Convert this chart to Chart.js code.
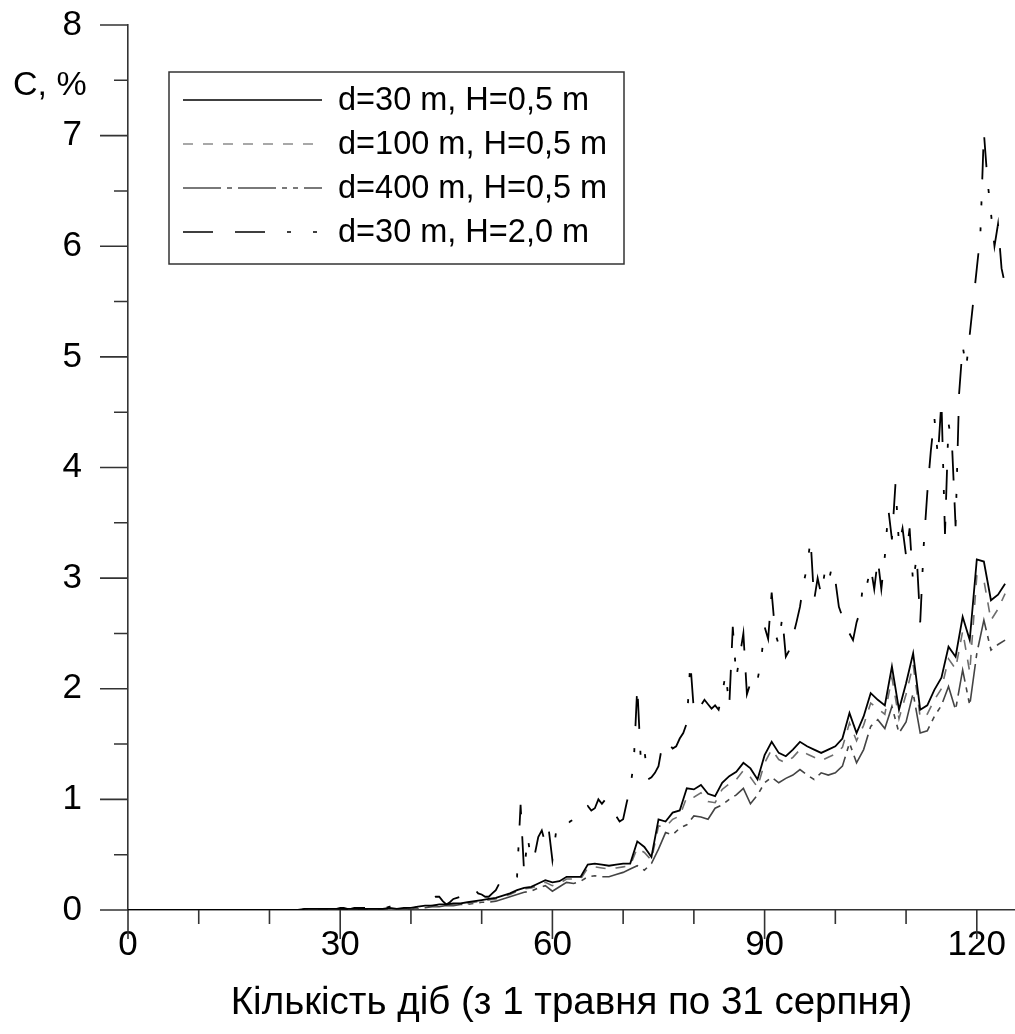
<!DOCTYPE html>
<html>
<head>
<meta charset="utf-8">
<title>Концентрація</title>
<script src="https://cdn.jsdelivr.net/npm/chart.js@4.4.1/dist/chart.umd.min.js"></script>
<style>
    html, body { margin: 0; padding: 0; background: #fff; }
    #wrap { width: 1015px; height: 1034px; position: relative; }
</style>
</head>
<body>
<div id="wrap"><canvas id="concChart"></canvas></div>
<script>
"use strict";

// Осі
var xTickLabels = [0, 30, 60, 90, 120];
var yTickLabels = [0, 1, 2, 3, 4, 5, 6, 7, 8];
var xTitle      = "Кількість діб (з 1 травня по 31 серпня)";
var yTitle      = "C, %";

var seriesLabels = [
    "d=30 m, H=0,5 m",
    "d=100 m, H=0,5 m",
    "d=400 m, H=0,5 m",
    "d=30 m, H=2,0 m"
];

// Концентрація по добах, доба 0 .. 124
var conc30 = [
    0, 0, 0, 0, 0, 0, 0, 0, 0, 0,
    0, 0, 0, 0, 0, 0, 0, 0, 0, 0,
    0, 0, 0, 0, 0, 0.01, 0.01, 0.01, 0.01, 0.01,
    0.01, 0.01, 0.01, 0.01, 0.01, 0.01, 0.01, 0.02, 0.01, 0.02,
    0.02, 0.03, 0.04, 0.04, 0.05, 0.05, 0.06, 0.06, 0.07, 0.08,
    0.09, 0.10, 0.11, 0.13, 0.15, 0.18, 0.20, 0.21, 0.24, 0.27,
    0.25, 0.26, 0.30, 0.30, 0.30, 0.41, 0.42, 0.41, 0.40, 0.41,
    0.42, 0.42, 0.62, 0.57, 0.48, 0.82, 0.80, 0.88, 0.90, 1.10,
    1.09, 1.13, 1.05, 1.03, 1.15, 1.21, 1.25, 1.33, 1.28, 1.18,
    1.40, 1.52, 1.42, 1.39, 1.45, 1.52, 1.48, 1.45, 1.42, 1.45,
    1.48, 1.55, 1.78, 1.60, 1.75, 1.96, 1.90, 1.85, 2.20, 1.81,
    2.05, 2.32, 1.81, 1.85, 1.99, 2.10, 2.38, 2.29, 2.65, 2.44,
    3.17, 3.15, 2.80, 2.85, 2.95
];
var conc100 = [
    0, 0, 0, 0, 0, 0, 0, 0, 0, 0,
    0, 0, 0, 0, 0, 0, 0, 0, 0, 0,
    0, 0, 0, 0, 0, 0.01, 0.01, 0.01, 0.01, 0.01,
    0.01, 0.01, 0.01, 0.01, 0.01, 0.01, 0.01, 0.01, 0.01, 0.01,
    0.02, 0.02, 0.03, 0.04, 0.04, 0.05, 0.05, 0.06, 0.06, 0.07,
    0.08, 0.09, 0.10, 0.12, 0.14, 0.17, 0.19, 0.20, 0.22, 0.25,
    0.22, 0.24, 0.28, 0.28, 0.28, 0.38, 0.39, 0.38, 0.37, 0.38,
    0.39, 0.40, 0.56, 0.52, 0.45, 0.76, 0.75, 0.82, 0.85, 1.02,
    1.02, 1.06, 0.98, 0.97, 1.09, 1.14, 1.18, 1.26, 1.20, 1.11,
    1.33, 1.45, 1.36, 1.33, 1.38, 1.45, 1.41, 1.38, 1.35, 1.38,
    1.41, 1.47, 1.69, 1.53, 1.67, 1.87, 1.82, 1.77, 2.10, 1.73,
    1.95, 2.22, 1.74, 1.77, 1.90, 2.00, 2.27, 2.18, 2.52, 2.15,
    3.02, 2.98, 2.62, 2.72, 2.86
];
var conc400 = [
    0, 0, 0, 0, 0, 0, 0, 0, 0, 0,
    0, 0, 0, 0, 0, 0, 0, 0, 0, 0,
    0, 0, 0, 0, 0, 0, 0.01, 0, 0.01, 0.01,
    0.01, 0.01, 0.01, 0.01, 0.01, 0.01, 0.01, 0.01, 0.01, 0.01,
    0.01, 0.01, 0.02, 0.03, 0.03, 0.04, 0.04, 0.05, 0.05, 0.06,
    0.07, 0.07, 0.08, 0.10, 0.12, 0.14, 0.16, 0.17, 0.20, 0.22,
    0.17, 0.21, 0.25, 0.24, 0.26, 0.30, 0.31, 0.30, 0.30, 0.32,
    0.34, 0.37, 0.40, 0.36, 0.42, 0.55, 0.70, 0.68, 0.74, 0.77,
    0.85, 0.84, 0.82, 0.92, 0.95, 1.00, 1.04, 1.10, 0.96, 1.04,
    1.15, 1.20, 1.15, 1.19, 1.22, 1.27, 1.22, 1.18, 1.24, 1.22,
    1.24, 1.30, 1.51, 1.33, 1.45, 1.66, 1.72, 1.64, 1.84, 1.60,
    1.70, 1.96, 1.60, 1.62, 1.75, 1.85, 2.02, 1.81, 2.17, 1.85,
    2.32, 2.62, 2.35, 2.40, 2.44
];

// Для H=2,0 m крок пів доби: 0; 0,5; 1 .. 124
var conc30h2 = [
    0, 0, 0, 0, 0, 0, 0, 0, 0, 0,
    0, 0, 0, 0, 0, 0, 0, 0, 0, 0,
    0, 0, 0, 0, 0, 0, 0, 0, 0, 0,
    0, 0, 0, 0, 0, 0, 0, 0, 0, 0,
    0, 0, 0, 0, 0, 0, 0, 0, 0, 0,
    0.01, 0.01, 0.01, 0.01, 0.01, 0.01, 0.02, 0.02, 0.01, 0.01,
    0.02, 0.02, 0.01, 0.01, 0.02, 0.02, 0.02, 0.02, 0.02, 0.02,
    0.01, 0.01, 0.02, 0.02, 0.03, 0.03, 0.02, 0.02, 0.02, 0.02,
    0.02, 0.02, 0.03, 0.03, 0.05, 0.08, 0.10, 0.12, 0.12, 0.08,
    0.05, 0.07, 0.10, 0.11, 0.12, 0.15, 0.18, 0.20, 0.19, 0.15,
    0.14, 0.12, 0.12, 0.15, 0.18, 0.24, 0.26, 0.27, 0.25, 0.29,
    0.30, 0.95, 0.34, 0.66, 0.45, 0.50, 0.66, 0.72, 0.60, 0.72,
    0.45, 0.70, 0.75, 0.79, 0.76, 0.80, 0.82, 0.82, 0.86, 0.92,
    0.94, 0.90, 0.92, 1.00, 0.96, 1.00, 0.94, 0.90, 0.85, 0.80,
    0.82, 0.97, 1.10, 1.33, 2.02, 1.35, 1.45, 1.18, 1.20, 1.24,
    1.30, 1.48, 1.45, 1.50, 1.46, 1.48, 1.55, 1.60, 1.69, 2.24,
    1.80, 1.78, 1.85, 1.90, 1.86, 1.82, 1.85, 1.81, 1.95, 2.14,
    1.84, 2.56, 2.10, 2.30, 2.50, 1.95, 2.05, 2.00, 2.08, 2.25,
    2.56, 2.45, 2.87, 2.50, 2.40, 2.65, 2.29, 2.35, 2.47, 2.60,
    2.74, 2.95, 3.10, 3.35, 2.80, 3.00, 2.85, 3.05, 2.95, 3.10,
    2.98, 2.74, 2.65, 2.60, 2.50, 2.44, 2.60, 2.70, 3.00, 2.95,
    3.10, 2.90, 3.17, 2.90, 3.20, 3.62, 3.35, 3.85, 3.30, 3.45,
    3.20, 3.45, 2.95, 3.20, 2.60, 3.30, 3.77, 4.15, 4.45, 4.10,
    4.60, 3.40, 4.40, 4.20, 3.47, 4.67, 5.10, 4.90, 5.20, 5.50,
    5.80, 6.10, 7.03, 6.60, 6.30, 6.00, 6.20, 5.80, 5.65
];

var fontFamily = "\"Liberation Sans\", Arial, sans-serif";
var axisColor  = "#333333";

function toPoints(values, step)
{
    var pts = [];
    for (var i = 0; i < values.length; i++)
    {
        pts.push({x: i * step, y: values[i]});
    }
    return pts;
}

// Риски на осях (великі та малі) і підпис осі Y
var axisTicksPlugin = {
    id: "axisTicks",
    afterDraw: function (chart)
    {
        var ctx  = chart.ctx;
        var area = chart.chartArea;
        var xs   = chart.scales.x;
        var ys   = chart.scales.y;

        ctx.save();
        ctx.strokeStyle = axisColor;
        ctx.lineWidth   = 1.6;
        ctx.beginPath();
        for (var v = 0; v <= 8; v += 0.5)
        {
            var py  = ys.getPixelForValue(v);
            var len = (v % 1 === 0) ? 28 : 14;
            ctx.moveTo(area.left - len, py);
            ctx.lineTo(area.left, py);
        }
        for (var d = 0; d <= 120; d += 10)
        {
            var px   = xs.getPixelForValue(d);
            var tlen = (d % 30 === 0) ? 29 : 14;
            ctx.moveTo(px, area.bottom);
            ctx.lineTo(px, area.bottom + tlen);
        }
        ctx.stroke();

        ctx.fillStyle    = "#000";
        ctx.font         = "34px " + fontFamily;
        ctx.textAlign    = "left";
        ctx.textBaseline = "middle";
        ctx.fillText(yTitle, 13, 86);
        ctx.restore();
    }
};

// Легенда в рамці
var boxLegendPlugin = {
    id: "boxLegend",
    afterDraw: function (chart)
    {
        var ctx = chart.ctx;
        ctx.save();
        ctx.fillStyle   = "#fff";
        ctx.fillRect(169, 72, 455, 192);
        ctx.strokeStyle = axisColor;
        ctx.lineWidth   = 1.5;
        ctx.strokeRect(169, 72, 455, 192);

        chart.data.datasets.forEach(function (ds, i)
        {
            var rowY = 100 + i * 44;
            ctx.strokeStyle = ds.legendColor;
            ctx.lineWidth   = 1.5;
            ctx.setLineDash(ds.borderDash || []);
            ctx.beginPath();
            ctx.moveTo(183, rowY);
            ctx.lineTo(322, rowY);
            ctx.stroke();
            ctx.setLineDash([]);

            ctx.fillStyle    = "#000";
            ctx.font         = "32.5px " + fontFamily;
            ctx.textAlign    = "left";
            ctx.textBaseline = "middle";
            ctx.fillText(ds.label, 338, rowY + 1);
        });
        ctx.restore();
    }
};

window.addEventListener("DOMContentLoaded", function ()
{
    var lineStyles = [
        {color: "#000000", legend: "#000000", width: 1.8, dash: []},
        {color: "#6e6e6e", legend: "#8c8c8c", width: 1.6, dash: [10, 10]},
        {color: "#444444", legend: "#4d4d4d", width: 1.6, dash: [38, 6, 5, 6, 38, 6, 5, 6, 5, 6]},
        {color: "#000000", legend: "#000000", width: 1.8, dash: [30, 22, 30, 22, 4, 22, 4, 22]}
    ];
    var seriesValues = [conc30, conc100, conc400, conc30h2];
    var seriesSteps  = [1, 1, 1, 0.5];

    var datasets = seriesValues.map(function (values, i)
    {
        return {
            label:       seriesLabels[i],
            data:        toPoints(values, seriesSteps[i]),
            borderColor: lineStyles[i].color,
            legendColor: lineStyles[i].legend,
            borderWidth: lineStyles[i].width,
            borderDash:  lineStyles[i].dash,
            pointRadius: 0,
            tension:     0,
            fill:        false
        };
    });

    new Chart(document.getElementById("concChart"), {
        type:    "line",
        data:    {datasets: datasets},
        options: {
            responsive:          true,
            maintainAspectRatio: false,
            devicePixelRatio:    1,
            animation:           false,
            layout:              {
                padding: {top: 25, right: 0, bottom: 0, left: 0}
            },
            plugins: {
                legend:  {display: false},
                tooltip: {enabled: false}
            },
            scales: {
                x: {
                    type:  "linear",
                    min:   0,
                    max:   125.4,
                    grid:  {display: false, drawTicks: false},
                    border: {display: true, color: axisColor, width: 1.6},
                    ticks: {
                        color:    "#000",
                        padding:  14,
                        maxRotation: 0,
                        font:     {family: fontFamily, size: 35}
                    },
                    title: {
                        display: true,
                        text:    xTitle,
                        color:   "#000",
                        font:    {family: fontFamily, size: 38.5},
                        padding: {top: 0, bottom: 8}
                    },
                    afterBuildTicks: function (scale)
                    {
                        scale.ticks = xTickLabels.map(function (v) { return {value: v}; });
                    },
                    afterFit: function (scale)
                    {
                        scale.height       = 124;
                        scale.paddingLeft  = 0;
                        scale.paddingRight = 0;
                    }
                },
                y: {
                    type:  "linear",
                    min:   0,
                    max:   8,
                    grid:  {display: false, drawTicks: false},
                    border: {display: true, color: axisColor, width: 1.6},
                    ticks: {
                        color:   "#000",
                        padding: 46,
                        font:    {family: fontFamily, size: 35}
                    },
                    afterBuildTicks: function (scale)
                    {
                        scale.ticks = yTickLabels.map(function (v) { return {value: v}; });
                    },
                    afterFit: function (scale)
                    {
                        scale.width         = 128;
                        scale.paddingTop    = 0;
                        scale.paddingBottom = 0;
                    }
                }
            }
        },
        plugins: [axisTicksPlugin, boxLegendPlugin]
    });
});
</script>
</body>
</html>
